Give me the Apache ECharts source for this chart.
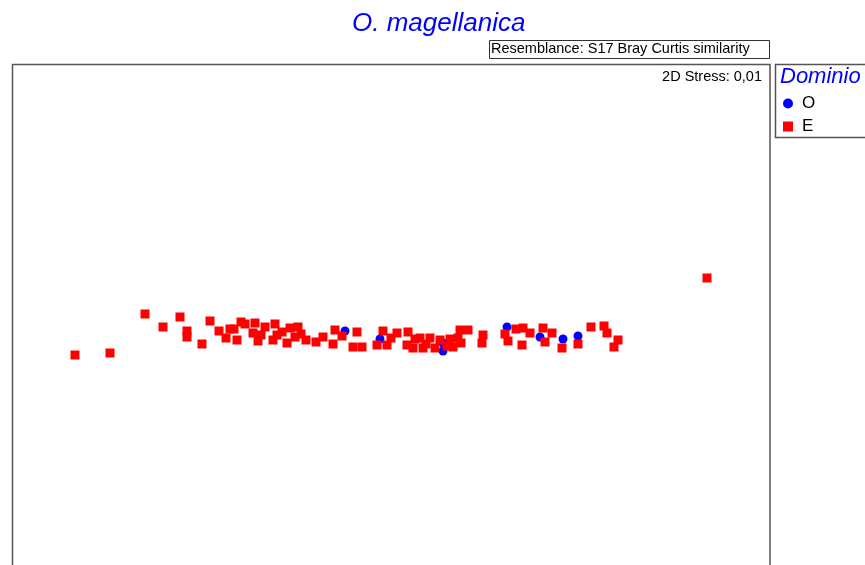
<!DOCTYPE html>
<html>
<head>
<meta charset="utf-8">
<script src="https://cdn.jsdelivr.net/npm/echarts@6/dist/echarts.min.js"></script>
<style>
html,body{margin:0;padding:0;background:#fff;}
#chart{width:865px;height:565px;}
</style>
</head>
<body>
<div id="chart"></div>
<script>
// nMDS coordinates (arbitrary units)
const titleText = 'O. magellanica';
const resemblanceText = 'Resemblance: S17 Bray Curtis similarity';
const stressText = '2D Stress: 0,01';
const legendTitle = 'Dominio';
const groupNames = ['O', 'E'];

const groupO = [
  [-0.184, -0.068], [-0.044, -0.100], [0.208, -0.116], [0.208, -0.148],
  [0.464, -0.052], [0.596, -0.092], [0.688, -0.100], [0.748, -0.088]
];

const groupE = [
  [-1.264, -0.164], [-1.124, -0.156], [-0.984, 0.000], [-0.912, -0.052],
  [-0.844, -0.012], [-0.816, -0.068], [-0.816, -0.092], [-0.756, -0.120],
  [-0.724, -0.028], [-0.688, -0.068], [-0.644, -0.060], [-0.660, -0.096],
  [-0.616, -0.104], [-0.600, -0.032], [-0.584, -0.040], [-0.544, -0.036],
  [-0.552, -0.076], [-0.532, -0.108], [-0.504, -0.052], [-0.464, -0.040],
  [-0.456, -0.084], [-0.472, -0.104], [-0.404, -0.056], [-0.372, -0.052],
  [-0.384, -0.092], [-0.416, -0.116], [-0.360, -0.080], [-0.300, -0.112],
  [-0.272, -0.092], [-0.224, -0.064], [-0.232, -0.120], [-0.196, -0.088],
  [-0.136, -0.072], [-0.152, -0.132], [-0.116, -0.132], [-0.056, -0.124],
  [-0.032, -0.068], [-0.016, -0.124], [0.024, -0.076], [0.068, -0.072],
  [0.064, -0.124], [0.096, -0.100], [0.088, -0.136], [0.116, -0.096],
  [0.156, -0.096], [0.128, -0.136], [0.176, -0.136], [0.196, -0.104],
  [0.224, -0.128], [0.248, -0.132], [0.268, -0.096], [0.276, -0.064],
  [0.308, -0.064], [0.280, -0.116], [0.368, -0.084], [0.364, -0.116],
  [0.456, -0.080], [0.468, -0.108], [0.528, -0.056], [0.556, -0.076],
  [0.524, -0.124], [0.608, -0.056], [0.644, -0.076], [0.616, -0.112],
  [0.684, -0.136], [0.748, -0.120], [0.800, -0.052], [0.852, -0.048],
  [0.864, -0.076], [0.908, -0.104], [0.892, -0.132], [1.264, 0.144],
  [-0.628, -0.060], [-0.520, -0.084], [-0.436, -0.072], [-0.340, -0.104],
  [0.000, -0.096], [0.140, -0.120], [0.236, -0.100], [0.500, -0.060]
];

const chart = echarts.init(document.getElementById('chart'), null, {renderer: 'canvas'});
const font = 'Liberation Sans, Arial, sans-serif';

chart.setOption({
  animation: false,
  backgroundColor: '#fff',
  title: [{
    text: titleText,
    left: 347, top: 6,
    textStyle: {color: '#0000ff', fontStyle: 'italic', fontWeight: 'normal', fontSize: 26, fontFamily: font}
  }],
  grid: {
    left: 12, right: 95, top: 64, bottom: 0,
    show: false
  },
  xAxis: {
    type: 'value', min: -1.516, max: 1.516,
    axisLine: {show: false}, axisTick: {show: false}, axisLabel: {show: false}, splitLine: {show: false}
  },
  yAxis: {
    type: 'value', min: -1.004, max: 1.0,
    axisLine: {show: false}, axisTick: {show: false}, axisLabel: {show: false}, splitLine: {show: false}
  },
  legend: {
    orient: 'vertical', left: 778, top: 90, itemGap: 6,
    itemWidth: 10, itemHeight: 10,
    textStyle: {fontSize: 17, color: '#000', fontFamily: font, padding: [0, 0, 0, 4]},
    data: [
      {name: groupNames[0], icon: 'circle'},
      {name: groupNames[1], icon: 'rect'}
    ]
  },
  graphic: [
    {type: 'rect', z: -1, shape: {x: 12.5, y: 64.5, width: 757.5, height: 520}, style: {fill: 'none', stroke: '#555', lineWidth: 1.5}},
    {type: 'rect', shape: {x: 489.5, y: 40.5, width: 280, height: 18}, style: {fill: '#fff', stroke: '#333', lineWidth: 1}},
    {type: 'text', x: 491, y: 49, style: {text: resemblanceText, fill: '#000', font: '14.5px ' + font, verticalAlign: 'middle'}},
    {type: 'text', x: 762, y: 77, style: {text: stressText, fill: '#000', font: '14.5px ' + font, align: 'right', verticalAlign: 'middle'}},
    {type: 'rect', shape: {x: 775.5, y: 64.5, width: 100, height: 73}, style: {fill: 'none', stroke: '#555', lineWidth: 1.5}},
    {type: 'text', x: 780, y: 77, style: {text: legendTitle, fill: '#0000ff', font: 'italic 22px ' + font, verticalAlign: 'middle'}}
  ],
  series: [
    {
      name: groupNames[0], type: 'scatter', data: groupO,
      symbol: 'circle', symbolSize: 9,
      itemStyle: {color: '#0000ff', opacity: 1}
    },
    {
      name: groupNames[1], type: 'scatter', data: groupE,
      symbol: 'rect', symbolSize: 9,
      itemStyle: {color: '#ff0000', opacity: 1}
    }
  ]
});
</script>
</body>
</html>
